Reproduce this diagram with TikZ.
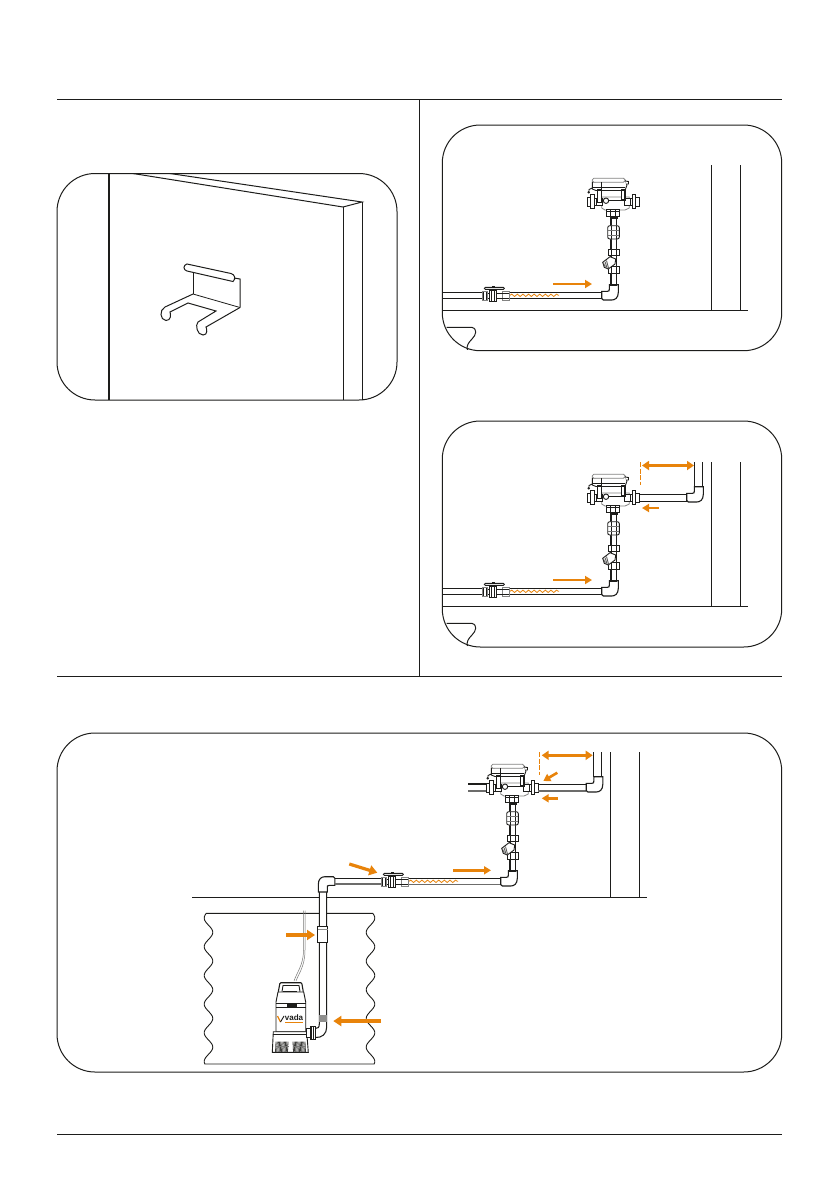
\documentclass[tikz,border=0pt]{standalone}
\usepackage{fontspec}
\setmainfont{Liberation Sans}
\usetikzlibrary{arrows.meta, decorations.pathmorphing}
\definecolor{flow}{HTML}{E8830A}
\definecolor{ink}{HTML}{1D1D1B}
\begin{document}
\begin{tikzpicture}[x=1pt, y=-1pt,
  rule/.style={draw=ink, line width=0.9pt},
  panel/.style={draw=ink, line width=1pt, rounded corners=38pt},
  wall/.style={draw=ink, line width=1pt},
  pipeline/.style={draw=ink, line width=1.05pt},
  pipefaint/.style={draw=ink!65, line width=1.05pt},
  fitting/.style={draw=ink, line width=0.9pt, fill=white},
  soft/.style={draw=ink!55, line width=0.8pt, fill=white},
  flowarrow/.style={draw=flow, line width=2.6pt, -{Triangle[length=7pt, width=8pt]}},
  flowbig/.style={draw=flow, line width=3.2pt, -{Triangle[length=8pt, width=10pt]}},
  flowtwin/.style={draw=flow, line width=3pt, {Triangle[length=7pt, width=9pt]}-{Triangle[length=7pt, width=9pt]}},
  limit/.style={draw=flow, line width=0.9pt, dash pattern=on 5pt off 1.5pt},
  heat/.style={draw=flow, line width=0.8pt, decorate, decoration={snake, segment length=5.6pt, amplitude=1.2pt}},
  pics/bend/.style={code={
    \draw[fitting, line width=1.1pt] (-11.3,-8.7) -- (-5.5,-8.7) .. controls (-3.7,-9) .. (-3.7,-11) -- (-3.7,-15.3)
      -- (5.3,-15.3) -- (5.3,-7.7) .. controls (5.3,-2) and (2,0) .. (-1.3,0) -- (-9.7,0) .. controls (-11,0) .. (-11.3,-1.5) -- cycle;
  }},
  pics/ballvalve/.style={code={
    \draw[fitting] (-5.7,-2.5) rectangle (9,2.5);
    \draw[soft] (-11,-4) rectangle (-5.7,4.3);
    \draw[fitting] (-9.5,-4) -- (-9.5,4.3) (-7,-4) -- (-7,4.3);
    \draw[fitting] (-4,-5.7) rectangle (3.3,5.3);
    \draw[fitting] (-2,-5.7) -- (-2,5.3) (1.3,-5.7) -- (1.3,5.3);
    \draw[soft] (9,-4) rectangle (15.7,5);
    \draw[fitting] (9,-2) -- (15.7,-2) (9,3) -- (15.7,3);
    \draw[fitting] (-1,-9.7) rectangle (1,-5.7);
    \draw[fitting, rounded corners=1pt] (-9,-8.3) rectangle (11,-6.3);
  }},
  pics/controller/.style={code={
    % riser
    \draw[pipeline, fill=white] (-2,-15) rectangle (3.7,-83);
    % strainer
    \draw[fitting] (-4.7,-33.3) rectangle (6,-26.7);
    \draw[fitting] (-2,-33.3) -- (-2,-26.7) (3.7,-33.3) -- (3.7,-26.7);
    \draw[fitting] (-4.7,-50.3) rectangle (6,-44.3);
    \draw[fitting] (-2,-50.3) -- (-2,-44.3) (3.7,-50.3) -- (3.7,-44.3);
    \draw[fitting] (-10.3,-37.7) -- (-3,-43.3) -- (2.7,-41) -- (2,-36) -- (-4.7,-31) -- (-8.7,-32.7) -- cycle;
    \draw[ink!75, line width=0.8pt] (-9.5,-37) -- (-7.5,-32.5) (-8,-38.3) -- (-6,-32.2) (-6.5,-39.5) -- (-4.5,-32);
    % union
    \draw[fitting, rounded corners=2pt] (-5.3,-74.3) rectangle (6.3,-61);
    \draw[fitting] (-2,-74.3) -- (-2,-61) (3.7,-74.3) -- (3.7,-61);
    \draw[ink!60, line width=0.7pt] (-5.3,-70) -- (6.3,-70) (-5.3,-65) -- (6.3,-65);
    % manifold and side stubs
    \draw[soft] (-11.3,-103) -- (16.3,-103) -- (16.3,-92) -- (12,-90) -- (-8,-90) -- (-11.3,-92) -- cycle;
    \draw[fitting] (-17,-101.7) rectangle (-11,-94.3);
    \draw[fitting] (11,-101.7) rectangle (17,-94.3);
    % flanges
    \draw[fitting] (-25.7,-103) rectangle (-22.5,-93.5);
    \draw[fitting] (-22.5,-105.3) rectangle (-19,-91.7);
    \draw[fitting] (-19,-102) rectangle (-17,-95);
    \draw[fitting] (17,-102) rectangle (19,-95);
    \draw[fitting] (19,-105.3) rectangle (22.5,-91.7);
    \draw[fitting] (22.5,-103) rectangle (26.3,-93.5);
    % base nut
    \draw[fitting] (-6.3,-91) rectangle (6.3,-83.3);
    \draw[fitting] (-6.3,-88.5) -- (6.3,-88.5) (-2.5,-91) -- (-2.5,-83.3) (2.5,-91) -- (2.5,-83.3);
    \draw[fitting, fill=ink] (-3,-83.3) rectangle (4,-81.5);
    % head
    \draw[fitting] (-20.7,-118) -- (-20.7,-111) -- (-17,-109.5) -- (12,-109.5) -- (14,-115) -- (12,-120) -- cycle;
    \draw[soft, rounded corners=1.5pt] (-20.7,-121.7) rectangle (12,-117.7);
    \draw[ink, line width=0.9pt] (-12,-118) -- (-12,-110) (-20,-113) -- (12,-113);
    \draw[fitting] (12,-119) -- (15.5,-118.5) -- (15.5,-116) -- (13,-116);
    \draw[fitting] (-20.7,-112) -- (-24,-110.5) -- (-24,-107);
    \fill[ink] (-24.3,-107.7) circle (1.3pt);
    \draw[fitting, line width=1.2pt] (-15.3,-110) rectangle (-11.3,-97.7);
    \draw[fitting, line width=1.2pt] (8.7,-110) rectangle (12,-100);
    \draw[ink, line width=0.9pt] (-11.3,-100) -- (8.7,-100);
    \draw[fitting] (-7,-99.3) circle (2.7pt);
  }}]
\fill[white] (0,0) rectangle (840,1192);
\useasboundingbox (0,0) rectangle (840,1192);

% page rules
\draw[rule] (57,99) -- (782,99);
\draw[rule] (419,99) -- (419,677);
\draw[rule] (57,676.5) -- (782,676.5);
\draw[rule] (57,1134) -- (782,1134);

% hook on the door
\draw[panel] (57,173.5) rectangle (397,400);
\draw[ink, line width=1.6pt] (108.7,173.5) -- (108.7,400);
\draw[wall] (133,173.5) -- (343,207) -- (362,202) -- (170,173.5);
\draw[wall] (343,207) -- (343,400);
\draw[wall] (362,202) -- (362,400);
\draw[wall] (193,272) -- (193,294);
\draw[wall] (234,278) -- (240,279) -- (240,307.5);
\draw[ink, line width=0.8pt] (193,294) -- (240,307.5);
\draw[wall] (187,264) -- (231,273.5) .. controls (235,274.5) and (236,279) .. (233,281.5) -- (187,271) .. controls (183,270) and (183,265) .. (187,264) -- cycle;
\draw[wall] (193,294) -- (165,307) .. controls (159,310) and (160,320) .. (166,320.5) .. controls (171,320.5) and (171,315) .. (170,312)
  -- (188,303) -- (216,311) -- (198,322) .. controls (195,325) and (197,335) .. (203,335) .. controls (208,335) and (207,329) .. (206,327) -- (240,307.5);

% panel with the first run
\draw[panel] (442.3,125) rectangle (781.7,350.7);
\draw[wall] (711.7,165) -- (711.7,310.7);
\draw[wall] (740.3,165) -- (740.3,310.7);
\draw[wall] (442.3,310.7) -- (748,310.7);
\draw[wall] (446.7,327.3) -- (471.7,327.3) .. controls (478,329) and (476,335) .. (472,339) .. controls (468,343) and (466.5,346) .. (467.3,349.8);
\draw[pipeline] (442.3,292.7) -- (482,292.7) (442.3,298.3) -- (482,298.3);
\draw[pipeline] (509,292.7) -- (602,292.7) (509,298.3) -- (602,298.3);
\draw[heat] (510,295.3) -- (559,295.3);
\pic at (493.3,295.7) {ballvalve};
\pic at (613,300) {bend};
\pic at (613,300) {controller};
\draw[flowarrow] (553,284) -- (592,284);

% panel with the run to the outlet
\draw[panel] (442.3,421) rectangle (781.7,647);
\draw[wall] (711.7,462) -- (711.7,606.7);
\draw[wall] (740.3,462) -- (740.3,606.7);
\draw[wall] (442.3,606.7) -- (748,606.7);
\draw[wall] (446.7,623.3) -- (471.7,623.3) .. controls (478,625) and (476,631) .. (472,635) .. controls (468,639) and (466.5,642) .. (467.3,646);
\draw[pipeline] (442.3,588.7) -- (482,588.7) (442.3,594.3) -- (482,594.3);
\draw[pipeline] (509,588.7) -- (602,588.7) (509,594.3) -- (602,594.3);
\draw[heat] (510,591.3) -- (559,591.3);
\pic at (493.3,591.7) {ballvalve};
\pic at (613,596) {bend};
\pic at (613,596) {controller};
\draw[pipeline] (694.3,462) -- (694.3,487) (702.3,462) -- (702.3,487);
\draw[pipeline] (640,494.5) -- (687,494.5) (640,501.5) -- (687,501.5);
\pic at (698,502) {bend};
\draw[flowarrow] (553,580) -- (592,580);
\draw[flowtwin] (642,465.5) -- (694,465.5);
\draw[limit] (640,462) -- (640,485);
\draw[flowarrow] (659,508) -- (642,508);

% whole installation
\draw[panel] (57,733) rectangle (781.7,1072);
\draw[wall] (610.3,752) -- (610.3,897.5);
\draw[wall] (639.3,752) -- (639.3,897.5);
\draw[wall] (192,897.5) -- (646.7,897.5);
\draw[ink, line width=0.9pt] plot[domain=913.3:1064, samples=90, smooth] ({208.5-4.3*cos(12.544*(\x-918))},\x)
  -- plot[domain=1064:913.3, samples=90, smooth] ({370.5+4.3*cos(12.544*(\x-918))},\x) -- cycle;
\draw[ink!60, line width=0.5pt] (303.5,910.7) -- (303.5,950) .. controls (303.5,965) and (297,972) .. (294,981);
\draw[ink!60, line width=0.5pt] (305,910.7) -- (305,950) .. controls (305,966) and (299,973) .. (296,981);

% pump
\draw[fitting, line width=1.1pt, rounded corners=1pt] (278.3,991.7) -- (280,982.7) -- (301.7,982.7) -- (303.3,991.7);
\draw[fitting] (282,991.7) -- (283,985.5) -- (299,985.5) -- (300,991.7);
\fill[ink] (282.7,990.5) rectangle (297.3,992.7);
\draw[fitting] (276,1031.7) -- (276,1002) -- (278,992) -- (303.7,992) -- (305.7,1002) -- (305.7,1031.7) -- cycle;
\draw[ink, line width=0.9pt] (276,1003) -- (305.7,1003) (276,1007.3) -- (305.7,1007.3);
\fill[ink] (287.3,1003.3) rectangle (296.7,1006.7);
\node[inner sep=0pt, font=\fontsize{8}{8}\selectfont\bfseries, text=ink] (vadalabel) at (294,1017.5) {vada};
\fill[flow] (285,1021.7) rectangle (303,1023.4);
\draw[flow, line width=1.2pt] (277.5,1016) -- (280.5,1022);
\draw[ink, line width=0.9pt] (280.5,1022) -- (284,1016);
\draw[fitting] (273.3,1031.7) -- (306.7,1031.7) -- (308.3,1052.3) -- (272.3,1052.3) -- cycle;
\draw[ink, line width=0.8pt] (273,1034.5) -- (307,1034.5);
\foreach \gx in {276,277.2,...,288.4} \draw[ink!85, line width=0.8pt] (\gx,1041.7) -- (\gx-0.5,1052);
\foreach \gx in {293,294.2,...,305.4} \draw[ink!85, line width=0.8pt] (\gx,1041.7) -- (\gx+0.5,1052);
\draw[ink!60, line width=0.5pt] (276,1046) -- (288.5,1046) (293,1046) -- (305.5,1046);

% pipe from the pump to the controller
\draw[pipeline, fill=white] (319.3,892) -- (319.3,1024) .. controls (319.3,1027.5) and (318,1028.5) .. (315,1028.5)
  -- (315,1037.5) .. controls (322,1038) and (326.7,1034) .. (326.7,1027) -- (326.7,892);
\draw[fitting, line width=1.1pt] (317.7,926.7) rectangle (327.7,942.3);
\draw[ink!50, line width=0.8pt] (317.7,929.5) -- (327.7,929.5);
\fill[ink!50] (319.3,1015) rectangle (326.7,1022);
\draw[fitting] (310,1026.7) rectangle (315,1039);
\draw[fitting] (306.7,1028) rectangle (310,1037.7);
\draw[ink, line width=0.7pt] (311.5,1026.7) -- (311.5,1039) (313.5,1026.7) -- (313.5,1039);
\pic[rotate=180] at (323.6,876.7) {bend};
\draw[pipeline] (335,878.5) -- (381,878.5);
\draw[pipefaint] (335,884) -- (381,884);
\draw[pipeline] (408,878.7) -- (501,878.7);
\draw[pipefaint] (408,884.3) -- (501,884.3);
\draw[heat] (409,881.3) -- (458,881.3);
\pic at (392.3,881.7) {ballvalve};
\pic at (512,886) {bend};
\pic at (512,886) {controller};
\draw[pipeline] (468,784) -- (486,784);
\draw[pipefaint] (468,791) -- (486,791);
\draw[pipeline] (538,784.5) -- (586,784.5);
\draw[pipefaint] (538,791) -- (586,791);
\draw[pipeline] (593.7,752) -- (593.7,777) (601.3,752) -- (601.3,777);
\pic at (597.5,792) {bend};

% flow marks
\draw[flowarrow] (453,870.3) -- (491,870.3);
\draw[flowtwin] (541.7,755.3) -- (592.7,755.3);
\draw[limit] (539.3,752) -- (539.3,775);
\draw[flowarrow] (557.3,772.7) -- (543.3,781);
\draw[flowarrow] (557.7,798.3) -- (541.7,798.3);
\draw[flowbig] (349.3,864) -- (377.3,872.7);
\draw[flowbig] (286,935) -- (315,935);
\draw[flowbig] (381,1021) -- (333.3,1021);
\end{tikzpicture}
\end{document}
